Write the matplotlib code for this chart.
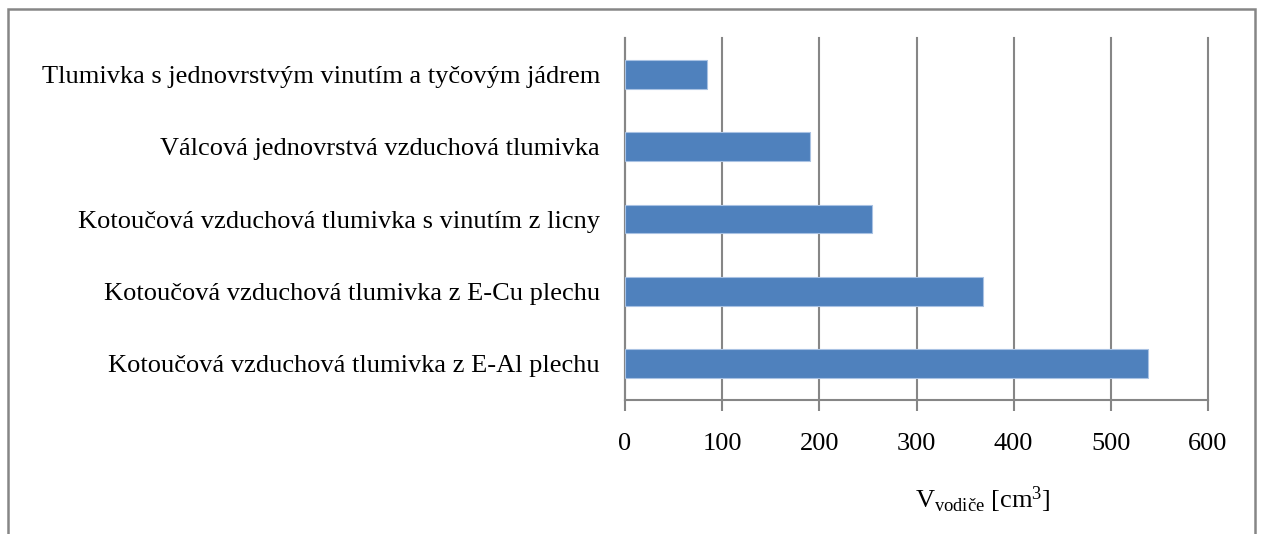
import matplotlib
matplotlib.use("Agg")
import matplotlib.pyplot as plt
from matplotlib.patches import Rectangle

plt.rcParams['font.family'] = ['Liberation Serif', 'DejaVu Serif']
plt.rcParams['mathtext.fontset'] = 'custom'
plt.rcParams['mathtext.rm'] = 'Liberation Serif'
plt.rcParams['mathtext.it'] = 'Liberation Serif:italic'

# Conductor volume per choke design, listed top to bottom
categories = [
    "Tlumivka s jednovrstvým vinutím a tyčovým jádrem",
    "Válcová jednovrstvá vzduchová tlumivka",
    "Kotoučová vzduchová tlumivka s vinutím z licny",
    "Kotoučová vzduchová tlumivka z E-Cu plechu",
    "Kotoučová vzduchová tlumivka z E-Al plechu",
]
volumes = [84, 190, 254, 368, 538]
xticks = [0, 100, 200, 300, 400, 500, 600]

GRID = "#868686"
BAR = "#4F81BD"

fig = plt.figure(figsize=(12.61, 5.34), dpi=100)
ax = fig.add_axes([625 / 1261, 1 - 400 / 534, 583 / 1261, 362 / 534])

ypos = list(range(len(categories)))
ax.barh(ypos, volumes, height=0.4, color=BAR, edgecolor="#A9C2E3",
        linewidth=0.8, zorder=3)
ax.set_ylim(len(categories) - 0.5, -0.5)
ax.set_yticks(ypos)
ax.set_yticklabels(categories, fontsize=19)
ax.tick_params(axis='y', length=0, pad=18)

ax.set_xlim(0, 600)
ax.set_xticks(xticks)
ax.set_xticklabels([str(t) for t in xticks], fontsize=19)
ax.tick_params(axis='x', length=8, width=1.5, color=GRID, pad=16)
ax.xaxis.grid(True, color=GRID, linewidth=1.5, zorder=0)
for gl in ax.get_xgridlines():
    gl.set_clip_on(False)

for side in ("top", "right"):
    ax.spines[side].set_visible(False)
for side in ("left", "bottom"):
    ax.spines[side].set_color(GRID)
    ax.spines[side].set_linewidth(1.5)

fig.text(983 / 1261, 1 - 500 / 534, r"V$_{\mathrm{vodiče}}$ [cm$^{3}$]",
         fontsize=19, ha="center", va="center")

# outer frame of the chart area
fig.patches.append(Rectangle((8 / 1261, -0.1), 1247 / 1261, 1.1 - 9 / 534,
                             transform=fig.transFigure, fill=False,
                             edgecolor=GRID, linewidth=1.8))

fig.savefig("out.png", dpi=100)
